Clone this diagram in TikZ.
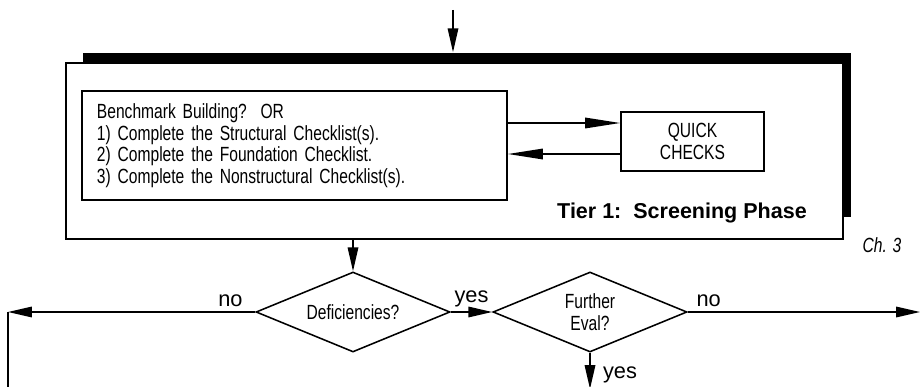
\documentclass[tikz,border=0pt]{standalone}
\usepackage{fontspec}
\setmainfont{Liberation Sans}[FakeStretch=0.76]
\newfontfamily\widefont{Liberation Sans}
\usetikzlibrary{arrows.meta,shapes.geometric}

\begin{document}
\begin{tikzpicture}[x=0.025cm,y=-0.025cm,line width=1.1pt,
  font=\fontsize{14.6}{15.3}\selectfont,
  arr/.style={-{Triangle[length=17pt,width=7.5pt]}},
  longarr/.style={-{Triangle[length=25pt,width=7.5pt]}},
  box/.style={draw,rectangle,inner sep=0pt},
  decision/.style={draw,diamond,aspect=2.4,inner sep=0pt,minimum width=4.85cm,minimum height=2.0cm,align=center},
  answer/.style={font=\widefont\fontsize{15.5}{17}\selectfont}]
\useasboundingbox (0,0) rectangle (920,387);
\clip (0,0) rectangle (920,387);
\path (467,135) node[fill,minimum width=19.2cm,minimum height=4.1cm,inner sep=0pt](shadow){}
 (454.5,151) node[box,fill=white,minimum width=19.425cm,minimum height=4.4cm](tier){}
 (294.5,145.5) node[box,minimum width=10.625cm,minimum height=2.725cm,text width=9.875cm,inner xsep=0.375cm,align=left](checklists){Benchmark Building?~~OR\\1) Complete the Structural Checklist(s).\\2) Complete the Foundation Checklist.\\3) Complete the Nonstructural Checklist(s).}
 (692.5,141.5) node[box,minimum width=3.575cm,minimum height=1.475cm,align=center](quick){QUICK\\CHECKS}
 (682,213) node[font=\widefont\bfseries\fontsize{15.3}{18}\selectfont](tiername){Tier 1:~~Screening Phase}
 (882,245) node[font=\itshape\fontsize{14.6}{15}\selectfont](chapter){Ch. 3}
 (353,312) node[decision](deficiencies){Deficiencies?}
 (590,312) node[decision](further){Further\\Eval?};
\coordinate (in) at (453,10);
\coordinate (left) at (8,312);
\coordinate (leftdown) at (8,400);
\coordinate (right) at (920,312);
\coordinate (down) at (590,389);

\draw[arr] (in) -- (in |- shadow.north);
\draw[longarr] ([yshift=0.5625cm]checklists.east) -- ([yshift=0.4625cm]quick.west);
\draw[longarr] ([yshift=-0.3125cm]quick.west) -- ([yshift=-0.2125cm]checklists.east);
\draw[arr] (tier.south -| deficiencies.north) -- (deficiencies.north);
\draw[arr] (deficiencies.west) -- node[answer,above,pos=0.1]{no} (left);
\draw (left) -- (leftdown);
\draw[arr] (deficiencies.east) -- node[answer,above]{yes} (further.west);
\draw[arr] (further.east) -- node[answer,above,pos=0.09]{no} (right);
\draw[arr] (further.south) -- node[answer,right=0.19cm,pos=0.6]{yes} (down);
\end{tikzpicture}
\end{document}
